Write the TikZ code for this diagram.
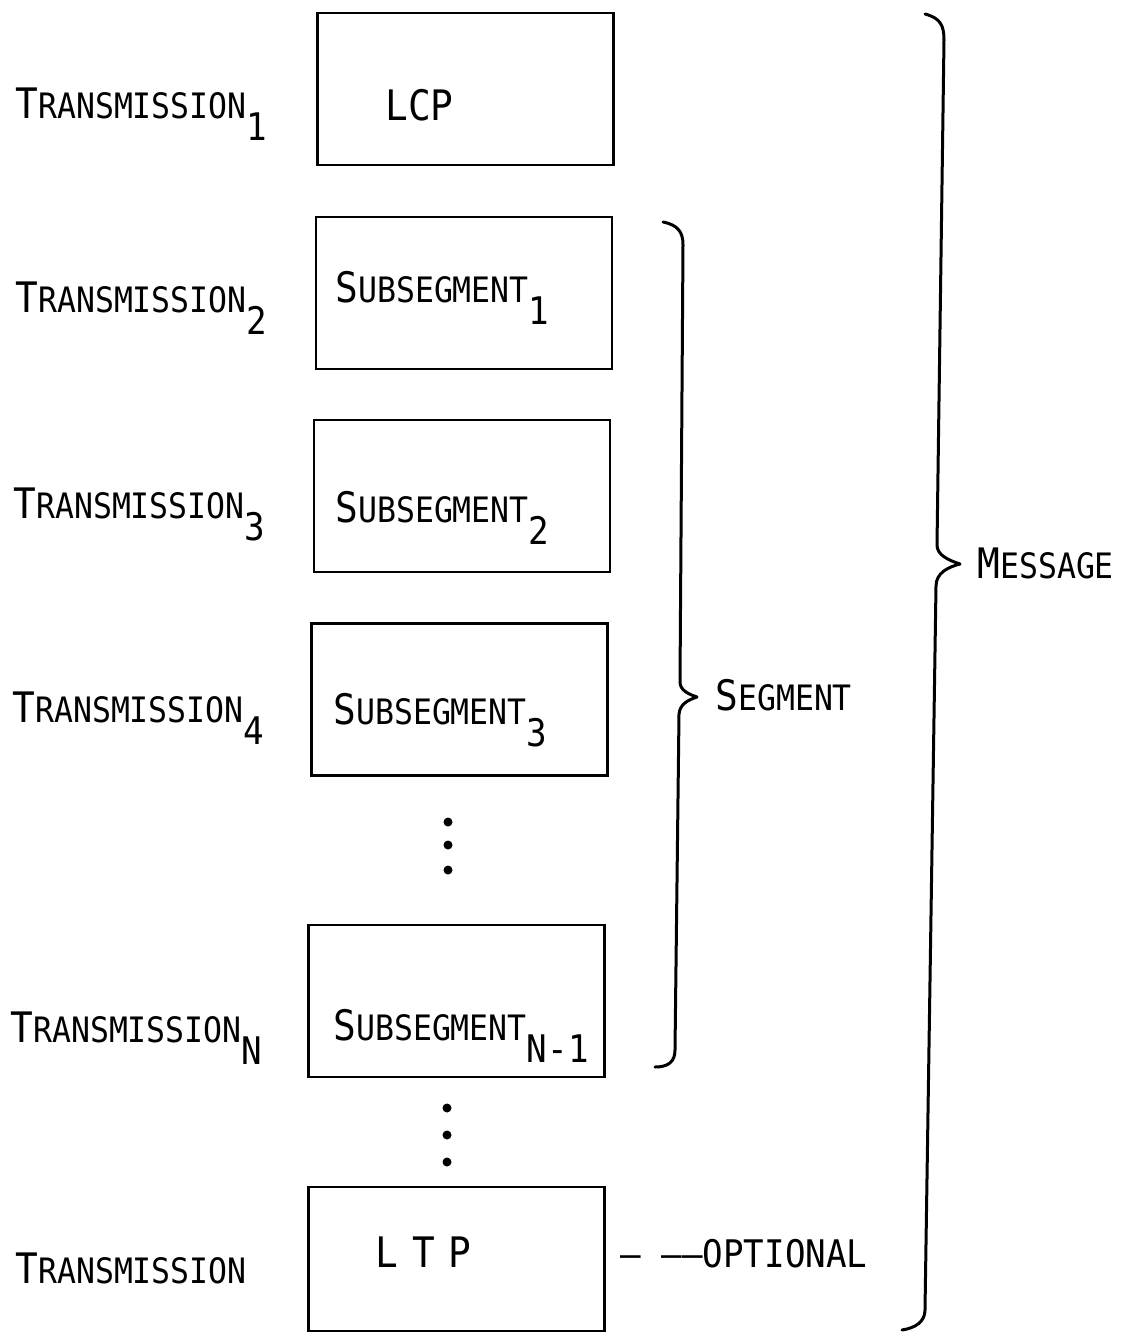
\documentclass[tikz,border=0pt]{standalone}
\usepackage{fontspec}
\newfontfamily\leroy[FakeStretch=0.9]{DejaVu Sans Mono}
\usetikzlibrary{positioning}
\tikzset{
  frame/.style={draw, line width=1.4pt, minimum width=148pt, minimum height=76pt, inner sep=0pt},
  lbl/.style={anchor=base west, inner sep=0pt, font=\leroy},
  brace/.style={line width=1.5pt, line cap=round, line join=round},
  dot/.style={circle, fill, inner sep=0pt, minimum size=4.5pt},
}
\newcommand\bigsc[2]{{\fontsize{21}{22}\selectfont #1}{\fontsize{17.5}{18}\selectfont #2}}
\newcommand\lowsub[1]{\raisebox{-11pt}{\fontsize{19}{19}\selectfont #1}}
\begin{document}
\begin{tikzpicture}[x=0.5pt, y=-0.5pt]
  \useasboundingbox (0,0) rectangle (1122,1334);
  % boxes
  \node[frame] (lcp)  at (465.5,89)  {};
  \node[frame] (sub1) at (464,293)   {};
  \node[frame] (sub2) at (462,496)   {};
  \node[frame] (sub3) at (459.5,699.5) {};
  \node[frame] (subn) at (456.5,1001) {};
  \node[frame, minimum height=72pt] (ltp) at (456.5,1259) {};
  % texts in the boxes
  \node[lbl] (lcptxt) at (385,120) {\fontsize{21}{22}\selectfont LCP};
  \node[lbl] (s1txt) at (335,302) {\bigsc{S}{UBSEGMENT}\lowsub{1}};
  \node[lbl] (s2txt) at (335,522) {\bigsc{S}{UBSEGMENT}\lowsub{2}};
  \node[lbl] (s3txt) at (333,724) {\bigsc{S}{UBSEGMENT}\lowsub{3}};
  \node[lbl] (sntxt) at (333,1040) {\bigsc{S}{UBSEGMENT}\lowsub{N-1}};
  \node[lbl] (ltptxt) at (375,1267) {\fontsize{21}{22}\selectfont L\hspace{7pt}T\hspace{7pt}P};
  % transmissions
  \node[lbl] (t1) at (15,118)  {\bigsc{T}{RANSMISSION}\lowsub{1}};
  \node[lbl] (t2) at (15,312)  {\bigsc{T}{RANSMISSION}\lowsub{2}};
  \node[lbl] (t3) at (13,518)  {\bigsc{T}{RANSMISSION}\lowsub{3}};
  \node[lbl] (t4) at (12,722)  {\bigsc{T}{RANSMISSION}\lowsub{4}};
  \node[lbl] (tn) at (10,1042) {\bigsc{T}{RANSMISSION}\lowsub{N}};
  \node[lbl] (tl) at (15,1283) {\bigsc{T}{RANSMISSION}};
  % dots
  \foreach \y in {822,845,870} \node[dot] at (448,\y) {};
  \foreach \y in {1108,1135,1162} \node[dot] at (447,\y) {};
  % braces
  \draw[brace] (663,222) .. controls (678,225) and (683,232) .. (683,245)
    -- (680,682) .. controls (680,690) and (688,694) .. (697,697)
    .. controls (688,700) and (680,704) .. (679,714)
    -- (675,1050) .. controls (675,1062) and (668,1067) .. (655,1067);
  \draw[brace] (925,14) .. controls (940,18) and (944,25) .. (944,40)
    -- (937,545) .. controls (937,555) and (948,560) .. (960,564)
    .. controls (948,567) and (936,573) .. (936,586)
    -- (925,1310) .. controls (925,1322) and (915,1328) .. (902,1330);
  \node[lbl] (seg) at (715,710) {\bigsc{S}{EGMENT}};
  \node[lbl] (msg) at (977,578) {\bigsc{M}{ESSAGE}};
  \node[lbl] (opt) at (620,1267) {\fontsize{19}{20}\selectfont \textendash\ \textendash\textendash OPTIONAL};
\end{tikzpicture}
\end{document}
